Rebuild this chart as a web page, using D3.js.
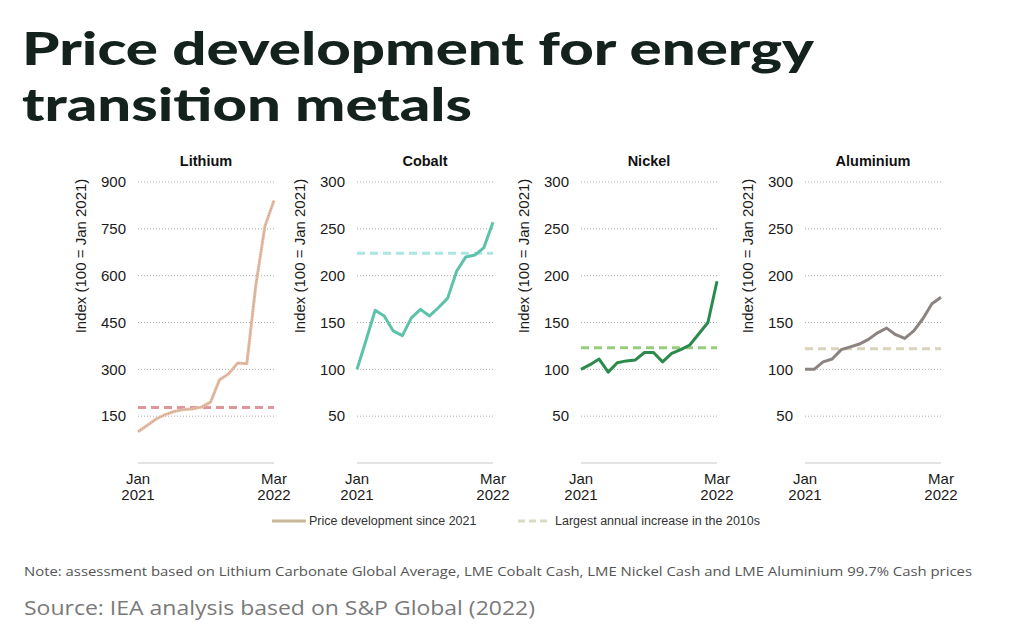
<!DOCTYPE html>
<html>
<head>
<meta charset="utf-8">
<script src="https://cdn.jsdelivr.net/npm/d3@7"></script>
<style>
  html, body { margin: 0; padding: 0; background: #ffffff; }
  svg { display: block; }
</style>
</head>
<body>
<svg id="chart" width="1024" height="640"></svg>
<script>
// ---- Data ----
const periodLabels = ["Jan 2021", "Mar 2022"];
const nPoints = 16;
const lithium   = [100, 120, 141, 155, 165, 171, 173, 179, 195, 267, 286, 320, 318, 570, 758, 841];
const cobalt    = [100, 131, 163, 157, 141, 136, 155, 164, 157, 166, 176, 205, 220, 222, 230, 257];
const nickel    = [100, 105, 111, 97, 107, 109, 110, 118, 118, 108, 117, 121, 126, 138, 150, 194];
const aluminium = [100, 100, 108, 111, 121, 124, 127, 132, 139, 144, 137, 133, 141, 154, 170, 177];
const largestIncrease = [178, 224, 123, 122];
const metalNames = ["Lithium", "Cobalt", "Nickel", "Aluminium"];
const lithiumTicks = [150, 300, 450, 600, 750, 900];
const otherTicks = [50, 100, 150, 200, 250, 300];
const legendLabels = ["Price development since 2021", "Largest annual increase in the 2010s"];

// ---- Styles ----
const lineColors = ["#e4bea6", "#5cc2aa", "#2b8a4c", "#8b8480"];
const dashColors = ["#e0959a", "#ace6e2", "#96cf7c", "#d9d2bc"];
const series = [lithium, cobalt, nickel, aluminium];
const yMax = [900, 300, 300, 300];
const yTicks = [lithiumTicks, otherTicks, otherTicks, otherTicks];
const panelX = [138, 357, 581, 805];
const plotW = 136, plotTop = 182, plotBottom = 463;
const axisFont = "'Liberation Sans', Arial, sans-serif";

const svg = d3.select("#chart");

// Title
const title = svg.append("g").attr("fill", "#14221e")
  .style("font-family", "Lato, Inter, sans-serif").style("font-weight", 900);
title.append("text").attr("x", 22).attr("y", 65).attr("font-size", 46)
  .attr("textLength", 792).attr("lengthAdjust", "spacingAndGlyphs")
  .text("Price development for energy");
title.append("text").attr("x", 22).attr("y", 121).attr("font-size", 46)
  .attr("textLength", 450).attr("lengthAdjust", "spacingAndGlyphs")
  .text("transition metals");

series.forEach((data, i) => {
  const x0 = panelX[i];
  const x = d3.scaleLinear().domain([0, nPoints - 1]).range([x0, x0 + plotW]);
  const y = d3.scaleLinear().domain([0, yMax[i]]).range([plotBottom, plotTop]);
  const g = svg.append("g");

  // panel title
  g.append("text").attr("x", x0 + plotW / 2).attr("y", 166)
    .attr("text-anchor", "middle").attr("font-family", axisFont)
    .attr("font-weight", "bold").attr("font-size", 14.5).attr("fill", "#111")
    .text(metalNames[i]);

  // gridlines
  g.selectAll("line.grid").data(yTicks[i]).join("line")
    .attr("x1", x0).attr("x2", x0 + plotW)
    .attr("y1", d => y(d)).attr("y2", d => y(d))
    .attr("stroke", "#a8a8a8").attr("stroke-width", 1)
    .attr("stroke-dasharray", "1,2");

  // y axis labels via axis
  const yAxis = d3.axisLeft(y).tickValues(yTicks[i]).tickSize(0).tickPadding(12);
  const ya = g.append("g").attr("transform", `translate(${x0},0)`).call(yAxis);
  ya.select(".domain").remove();
  ya.selectAll("text").attr("font-family", axisFont).attr("font-size", 15).attr("fill", "#1a1a1a");

  // baseline
  g.append("line").attr("x1", x0).attr("x2", x0 + plotW)
    .attr("y1", y(0)).attr("y2", y(0)).attr("stroke", "#c8c8c8").attr("stroke-width", 1);

  // x labels
  [[0, periodLabels[0]], [nPoints - 1, periodLabels[1]]].forEach(([idx, lab]) => {
    const parts = lab.split(" ");
    const t = g.append("text").attr("text-anchor", "middle").attr("font-family", axisFont)
      .attr("font-size", 15).attr("fill", "#1a1a1a");
    t.append("tspan").attr("x", x(idx)).attr("y", 484).text(parts[0]);
    t.append("tspan").attr("x", x(idx)).attr("y", 500).text(parts[1]);
  });

  // y axis title
  g.append("text").attr("transform", `translate(${x0 - 58},256) rotate(-90)`)
    .attr("text-anchor", "middle").attr("dominant-baseline", "central")
    .attr("font-family", axisFont).attr("font-size", 15).attr("fill", "#1a1a1a")
    .text("Index (100 = Jan 2021)");

  // dashed reference
  g.append("line").attr("x1", x0).attr("x2", x0 + plotW)
    .attr("y1", y(largestIncrease[i])).attr("y2", y(largestIncrease[i]))
    .attr("stroke", dashColors[i]).attr("stroke-width", 3)
    .attr("stroke-dasharray", "8,5");

  // price line
  const line = d3.line().x((d, k) => x(k)).y(d => y(d));
  g.append("path").datum(data).attr("d", line).attr("fill", "none")
    .attr("stroke", lineColors[i]).attr("stroke-width", 3)
    .attr("stroke-linejoin", "round");
  if (i === 0) {
    g.append("path").datum(data).attr("d", line).attr("fill", "none")
      .attr("stroke", "#c99580").attr("stroke-width", 1)
      .attr("stroke-dasharray", "1,1.5").attr("stroke-linejoin", "round");
  }
});

// Legend
const lg = svg.append("g").attr("font-family", axisFont).attr("font-size", 12.5).attr("fill", "#333");
lg.append("line").attr("x1", 272).attr("x2", 306).attr("y1", 521).attr("y2", 521)
  .attr("stroke", "#c5b797").attr("stroke-width", 3);
lg.append("text").attr("x", 309).attr("y", 525).text(legendLabels[0]);
lg.append("line").attr("x1", 518).attr("x2", 549).attr("y1", 521).attr("y2", 521)
  .attr("stroke", "#d8dbc2").attr("stroke-width", 3).attr("stroke-dasharray", "7,4");
lg.append("text").attr("x", 555).attr("y", 525).text(legendLabels[1]);

// Note and source
svg.append("text").attr("x", 24).attr("y", 576)
  .attr("font-family", "'Open Sans', sans-serif").attr("font-size", 13).attr("fill", "#555")
  .attr("textLength", 948).attr("lengthAdjust", "spacingAndGlyphs")
  .text("Note: assessment based on Lithium Carbonate Global Average, LME Cobalt Cash, LME Nickel Cash and LME Aluminium 99.7% Cash prices");
svg.append("text").attr("x", 24).attr("y", 615)
  .attr("font-family", "'Open Sans', sans-serif").attr("font-size", 20).attr("fill", "#7a7a7a")
  .attr("textLength", 511).attr("lengthAdjust", "spacingAndGlyphs")
  .text("Source: IEA analysis based on S&P Global (2022)");
</script>
</body>
</html>
